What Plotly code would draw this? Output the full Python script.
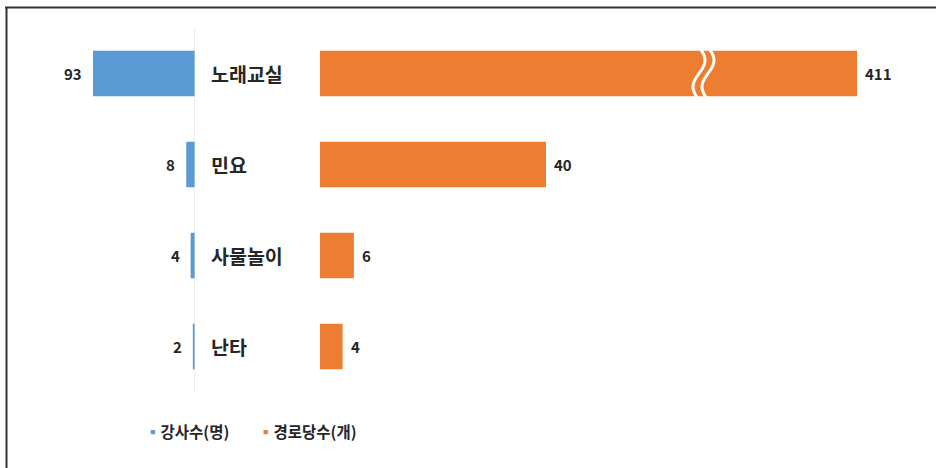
import math
import plotly.graph_objects as go

# ---- data ----
categories = ["노래교실", "민요", "사물놀이", "난타"]
instructors = [93, 8, 4, 2]          # 강사수(명)
centers = [411, 40, 6, 4]            # 경로당수(개)
series_names = ["강사수(명)", "경로당수(개)"]

# ---- styling / layout helpers ----
W, H = 936, 468
BLUE = "#5B9BD5"
ORANGE = "#ED7D31"
TXT = "#262626"
FONT = "Noto Sans CJK KR"


def fx(p):
    return p / W


def fy(p):
    return 1 - p / H


# left (reversed) axis: pixel 40..195
left_dom = (40, 195)
left_scale = 102 / 93
left_range = [(left_dom[1] - left_dom[0]) / left_scale, 0]

# right broken axis: two segments with the same scale
right_scale = 5.65
seg1 = (320, 704)
seg2 = (704, 880)
seg1_range = [0, (seg1[1] - seg1[0]) / right_scale]
bar_end_px = 857
seg2_lo = max(centers) - (bar_end_px - seg2[0]) / right_scale
seg2_range = [seg2_lo, seg2_lo + (seg2[1] - seg2[0]) / right_scale]

# category axis: centres at pixels 73 + 91*i
y_top, y_step = 73.5, 91
y_range = [(H - y_top) / y_step, -y_top / y_step]

fig = go.Figure()
fig.add_trace(go.Bar(x=instructors, y=categories, orientation="h", width=0.5,
                     marker=dict(color=BLUE, line=dict(width=0)),
                     xaxis="x", yaxis="y", name=series_names[0], showlegend=False))
fig.add_trace(go.Bar(x=centers, y=categories, orientation="h", width=0.5,
                     marker=dict(color=ORANGE, line=dict(width=0)),
                     xaxis="x2", yaxis="y", name=series_names[1], showlegend=False))
fig.add_trace(go.Bar(x=centers, y=categories, orientation="h", width=0.5,
                     marker=dict(color=ORANGE, line=dict(width=0)),
                     xaxis="x3", yaxis="y", name=series_names[1], showlegend=False))

ax_common = dict(showgrid=False, zeroline=False, showticklabels=False,
                 showline=False, ticks="", fixedrange=True)
fig.update_layout(
    width=W, height=H,
    margin=dict(l=0, r=0, t=0, b=0),
    paper_bgcolor="white", plot_bgcolor="rgba(0,0,0,0)",
    barmode="overlay",
    showlegend=False,
    xaxis=dict(domain=[fx(left_dom[0]), fx(left_dom[1])], range=left_range, anchor="y", **ax_common),
    xaxis2=dict(domain=[fx(seg1[0]), fx(seg1[1])], range=seg1_range, anchor="y", **ax_common),
    xaxis3=dict(domain=[fx(seg2[0]), fx(seg2[1])], range=seg2_range, anchor="y", **ax_common),
    yaxis=dict(domain=[0, 1], range=y_range, type="category",
               categoryorder="array", categoryarray=categories, **ax_common),
)

annotations = []
# category labels
for c in categories:
    annotations.append(dict(x=fx(209), xref="paper", y=c, yref="y", text=c,
                            showarrow=False, xanchor="left", yanchor="middle",
                            font=dict(family=FONT, size=19.5, color=TXT, weight="bold")))
# left values
for c, v in zip(categories, instructors):
    annotations.append(dict(x=v, xref="x", y=c, yref="y", text=str(v),
                            showarrow=False, xanchor="right", yanchor="middle", xshift=-9,
                            font=dict(family=FONT, size=15, color=TXT, weight="bold")))
# right values
for c, v in zip(categories, centers):
    ref = "x3" if v > seg1_range[1] else "x2"
    annotations.append(dict(x=v, xref=ref, y=c, yref="y", text=str(v),
                            showarrow=False, xanchor="left", yanchor="middle", xshift=6,
                            font=dict(family=FONT, size=15, color=TXT, weight="bold")))
# legend (drawn as text)
legend_items = [(series_names[0], BLUE, 143), (series_names[1], ORANGE, 256)]
for name, col, xp in legend_items:
    annotations.append(dict(x=fx(xp), xref="paper", y=fy(431), yref="paper",
                            text=f"<span style='color:{col}'>▪</span>{name}",
                            showarrow=False, xanchor="left", yanchor="middle",
                            font=dict(family=FONT, size=15.5, color=TXT, weight="bold")))
fig.update_layout(annotations=annotations)

shapes = []
# frame (top and left)
shapes.append(dict(type="line", xref="paper", yref="paper", x0=fx(5), x1=1.0,
                   y0=fy(7.5), y1=fy(7.5), line=dict(color="#333333", width=2)))
shapes.append(dict(type="line", xref="paper", yref="paper", x0=fx(6.5), x1=fx(6.5),
                   y0=fy(7), y1=0, line=dict(color="#333333", width=2)))
# centre axis line
shapes.append(dict(type="line", xref="x", yref="paper", x0=0, x1=0,
                   y0=fy(393), y1=fy(28), line=dict(color="#D9D9D9", width=1)))

# axis-break symbol: two white wavy strokes at the segment boundary
xb = seg2[0]
top, bot = 47, 100
n = 30
for dx in (-5, 4):
    pts = []
    for i in range(n + 1):
        t = i / n
        ypix = top + (bot - top) * t
        off = 6 * math.sin(2 * math.pi * t)
        pts.append((xb + dx + off, ypix))
    path = "M " + " L ".join(f"{fx(a):.5f},{fy(b):.5f}" for a, b in pts)
    shapes.append(dict(type="path", xref="paper", yref="paper", path=path,
                       line=dict(color="white", width=3)))
fig.update_layout(shapes=shapes)

fig.write_html("out.html", config={"displayModeBar": False},
               post_script="document.body.style.margin='0px';")
